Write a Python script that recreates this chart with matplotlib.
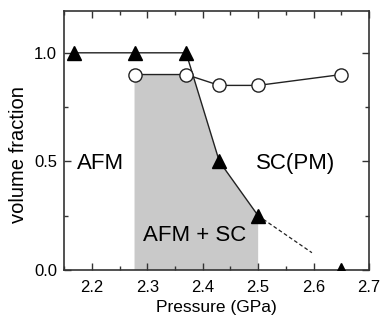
import matplotlib
matplotlib.use("Agg")
import matplotlib.pyplot as plt
from matplotlib.ticker import MultipleLocator

plt.rcParams['font.family'] = ['Liberation Sans', 'DejaVu Sans']

# AFM volume fraction (triangles)
afm_p = [2.167, 2.277, 2.37, 2.43, 2.50]
afm_v = [1.0, 1.0, 1.0, 0.50, 0.25]
afm_extra_p = [2.65]
afm_extra_v = [0.0]
# dashed extrapolation
dash_p = [2.50, 2.597]
dash_v = [0.25, 0.08]
# SC volume fraction (circles)
sc_p = [2.277, 2.37, 2.43, 2.50, 2.65]
sc_v = [0.90, 0.90, 0.85, 0.85, 0.90]
# shaded AFM + SC coexistence region boundary
shade_p = [2.277, 2.277, 2.382, 2.43, 2.50, 2.50]
shade_v = [0.0, 0.90, 0.90, 0.50, 0.25, 0.0]

fig = plt.figure(figsize=(3.84, 3.2), dpi=100)
ax = fig.add_axes([0.167, 0.156, 0.794, 0.810])

ax.fill(shade_p, shade_v, color='#c9c9c9', lw=0, zorder=1)
ax.plot(afm_p, afm_v, color='#222222', lw=1.0, marker='^', ms=10,
        mfc='black', mec='black', zorder=3)
ax.plot(afm_extra_p, afm_extra_v, ls='none', marker='^', ms=10,
        mfc='black', mec='black', zorder=3, clip_on=True)
ax.plot(dash_p, dash_v, color='#222222', lw=0.9, ls=(0, (3, 2)), zorder=2)
ax.plot(sc_p, sc_v, color='#222222', lw=1.0, marker='o', ms=9.5,
        mfc='white', mec='#222222', mew=1.0, zorder=3)

ax.text(2.215, 0.49, 'AFM', fontsize=16, ha='center', va='center')
ax.text(2.568, 0.49, 'SC(PM)', fontsize=16, ha='center', va='center')
ax.text(2.386, 0.16, 'AFM + SC', fontsize=16, ha='center', va='center')

ax.set_xlim(2.15, 2.70)
ax.set_ylim(0.0, 1.193)
ax.xaxis.set_major_locator(MultipleLocator(0.1))
ax.xaxis.set_minor_locator(MultipleLocator(0.05))
ax.yaxis.set_major_locator(MultipleLocator(0.5))
ax.yaxis.set_minor_locator(MultipleLocator(0.25))
ax.tick_params(which='both', direction='in', top=True, right=True,
               color='#333333', labelsize=12)
ax.tick_params(which='major', length=5, width=1)
ax.tick_params(which='minor', length=3, width=1)
ax.tick_params(axis='x', which='major', pad=7)
ax.tick_params(axis='y', which='major', pad=5)
ax.set_xticks([2.2, 2.3, 2.4, 2.5, 2.6, 2.7])
ax.set_xticklabels(['2.2', '2.3', '2.4', '2.5', '2.6', '2.7'])
ax.set_yticks([0.0, 0.5, 1.0])
ax.set_yticklabels(['0.0', '0.5', '1.0'])
for s in ax.spines.values():
    s.set_color('#333333')
    s.set_linewidth(1.2)

ax.set_xlabel('Pressure (GPa)', fontsize=12.5, labelpad=4)
ax.set_ylabel('volume fraction', fontsize=14.5)
ax.yaxis.set_label_coords(-0.118, 0.444)

fig.savefig('out.png', dpi=100)
